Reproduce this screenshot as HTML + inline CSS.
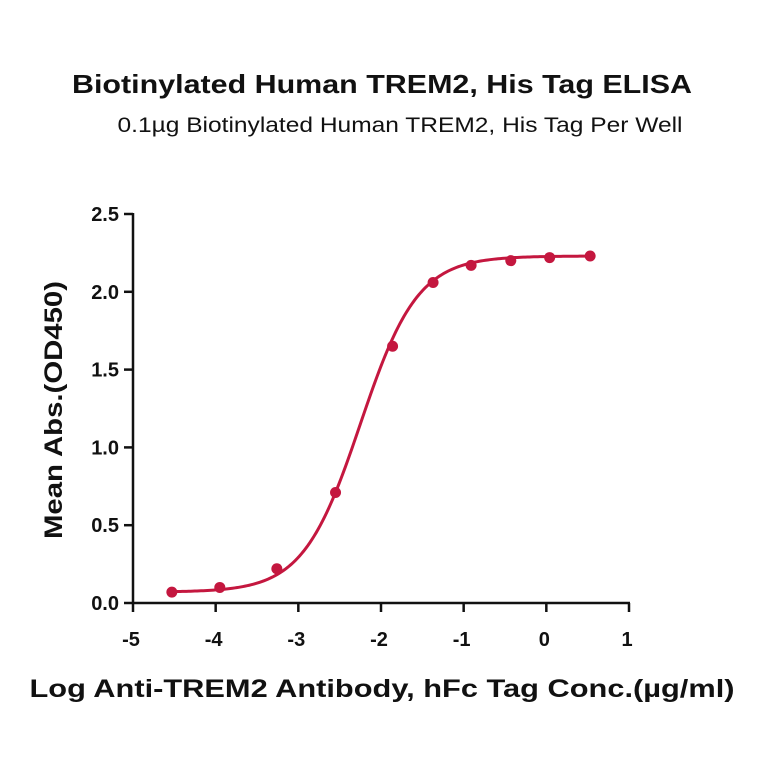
<!DOCTYPE html>
<html><head><meta charset="utf-8"><style>
html,body{margin:0;padding:0;background:#fff;width:764px;height:764px;overflow:hidden}
svg{display:block;font-family:"Liberation Sans",sans-serif}
</style></head><body>
<svg id="chart" width="764" height="764" viewBox="0 0 764 764">
<text x="382" y="93" text-anchor="middle" font-size="26" font-weight="bold" fill="#111" textLength="620" lengthAdjust="spacingAndGlyphs">Biotinylated Human TREM2, His Tag ELISA</text>
<text x="400" y="132" text-anchor="middle" font-size="21" fill="#111" textLength="565" lengthAdjust="spacingAndGlyphs">0.1µg Biotinylated Human TREM2, His Tag Per Well</text>
<g id="axes"></g>
<g id="marks"></g>
<text x="382" y="697" text-anchor="middle" font-size="25" font-weight="bold" fill="#111" textLength="705" lengthAdjust="spacingAndGlyphs">Log Anti-TREM2 Antibody, hFc Tag Conc.(µg/ml)</text>
<text transform="translate(62,410) rotate(-90)" text-anchor="middle" font-size="25" font-weight="bold" fill="#111" textLength="258" lengthAdjust="spacingAndGlyphs">Mean Abs.(OD450)</text>
</svg>
<script>
const xValues=[-4.53,-3.95,-3.26,-2.55,-1.86,-1.37,-0.91,-0.43,0.04,0.53];
const yValues=[0.07,0.10,0.22,0.71,1.65,2.06,2.17,2.20,2.22,2.23];
const xTicks=[-5,-4,-3,-2,-1,0,1];
const yTicks=[0.0,0.5,1.0,1.5,2.0,2.5];
const fitBottom=0.07, fitTop=2.23, fitLogEC50=-2.25, fitHill=1.25;
const X0=133,X1=629,Y0=603,Y1=214;
const sx=v=>X0+(v+5)/6*(X1-X0);
const sy=v=>Y0-v/2.5*(Y0-Y1);
const NS="http://www.w3.org/2000/svg";
const axes=document.getElementById('axes'),marks=document.getElementById('marks');
function mk(tag,attrs,parent){const e=document.createElementNS(NS,tag);for(const k in attrs)e.setAttribute(k,attrs[k]);parent.appendChild(e);return e;}
let l=mk('line',{x1:X0,y1:Y1-1,x2:X0,y2:Y0,stroke:'#111','stroke-width':2.5},axes);


l=mk('line',{x1:X0,y1:Y0,x2:X1+1,y2:Y0,stroke:'#111','stroke-width':2.5},axes);


xTicks.forEach(t=>{
 const x=sx(t);
 const tk=mk('line',{x1:x,y1:Y0,x2:x,y2:Y0+9,stroke:'#111','stroke-width':2.5},axes);
 
 
 const tx=mk('text',{x:x-2,y:Y0+43,'text-anchor':'middle','font-size':20,'font-weight':'bold',fill:'#111'},axes);
 tx.textContent=String(t);
 
 
});
yTicks.forEach(t=>{
 const y=sy(t);
 const tk=mk('line',{x1:X0-9,y1:y,x2:X0,y2:y,stroke:'#111','stroke-width':2.5},axes);
 
 
 const tx=mk('text',{x:X0-14,y:y+7,'text-anchor':'end','font-size':20,'font-weight':'bold',fill:'#111'},axes);
 tx.textContent=t.toFixed(1);
 
 
});
const f=x=>fitBottom+(fitTop-fitBottom)/(1+Math.pow(10,fitHill*(fitLogEC50-x)));
let d='';const xa=xValues[0],xb=xValues[xValues.length-1];
for(let i=0;i<=200;i++){const x=xa+(xb-xa)*i/200;d+=(i?'L':'M')+sx(x).toFixed(2)+','+sy(f(x)).toFixed(2);}
const p=mk('path',{d:d,fill:'none',stroke:'#c4173f','stroke-width':3},marks);


xValues.forEach((x,i)=>{
 const c=mk('circle',{cx:sx(x),cy:sy(yValues[i]),r:5.5,fill:'#c4173f'},marks);
 
 
});
</script>
</body></html>
